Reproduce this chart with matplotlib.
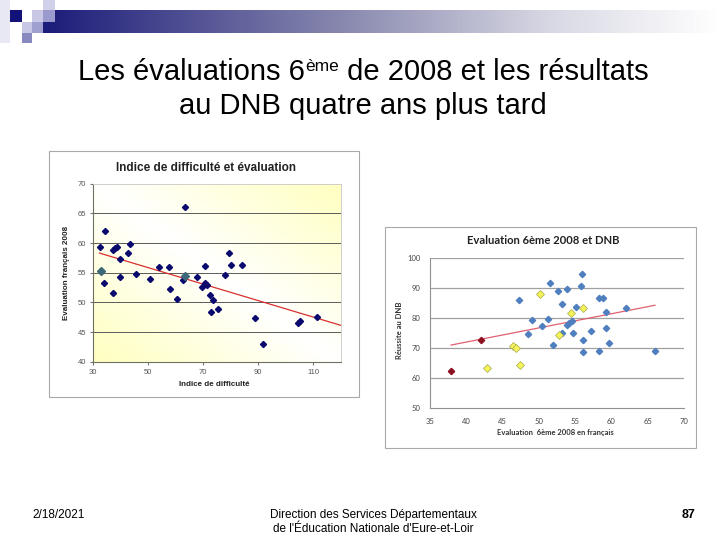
import matplotlib
matplotlib.use("Agg")
import matplotlib.pyplot as plt
import numpy as np
from matplotlib.colors import LinearSegmentedColormap
from matplotlib.patches import Rectangle

W, H = 720, 540

# graphique 1 : indice de difficulté / évaluation français 2008
diff_x = [32.4, 34.4, 34.1, 37.4, 37.2, 38.0, 38.6, 39.7, 39.7, 42.7, 43.5,
          45.7, 50.7, 54.0, 57.5, 58.0, 60.4, 63.6, 62.9, 67.7, 69.5, 70.6,
          70.9, 71.5, 72.4, 72.8, 73.6, 75.5, 78.0, 79.3, 80.1, 84.1, 88.8,
          91.7, 104.5, 105.4, 111.3]
diff_y = [59.3, 62.1, 53.3, 51.6, 58.9, 59.1, 59.3, 57.3, 54.3, 58.3, 59.8,
          54.7, 53.9, 56.0, 55.9, 52.2, 50.5, 66.1, 53.8, 54.3, 52.6, 56.2,
          53.3, 52.9, 51.3, 48.4, 50.4, 48.9, 54.6, 58.4, 56.3, 56.3, 47.3,
          43.0, 46.5, 46.9, 47.5]
# deux points en couleur plus claire
diff_hl_x = [33.0, 63.6]
diff_hl_y = [55.3, 54.5]

# graphique 2 : évaluation 6ème 2008 / réussite au DNB
blue_x = [47.2, 49.0, 48.5, 50.4, 51.2, 52.0, 51.6, 52.6, 53.9, 55.9, 55.8,
          53.2, 55.1, 58.3, 58.9, 59.3, 62.0, 53.9, 54.2, 54.5, 53.2, 54.7,
          57.2, 59.2, 56.1, 59.6, 56.1, 58.3, 66.0]
blue_y = [86.0, 79.5, 74.6, 77.5, 79.7, 71.2, 91.8, 89.2, 89.9, 94.6, 90.7,
          84.8, 83.7, 86.6, 86.6, 82.1, 83.3, 77.7, 78.3, 79.0, 75.0, 75.0,
          75.7, 76.8, 72.8, 71.7, 68.8, 69.2, 69.2]
yellow_x = [42.8, 46.4, 46.8, 47.4, 50.2, 56.1, 54.4, 52.8]
yellow_y = [63.2, 70.7, 70.1, 64.4, 88.2, 83.5, 81.7, 74.4]
red_x = [37.9, 42.0]
red_y = [62.2, 72.8]

TITLE = ["Les évaluations 6", "ème", " de 2008 et les résultats"]
TITLE_2 = "au DNB quatre ans plus tard"
FOOT_DATE = "2/18/2021"
FOOT_TEXT = "Direction des Services Départementaux\nde l'Éducation Nationale d'Eure-et-Loir"
FOOT_PAGE = "87"


def box(x0, y0, x1, y1):
    """pixels (haut-gauche) -> fraction de figure"""
    return [x0 / W, 1 - y1 / H, (x1 - x0) / W, (y1 - y0) / H]


def frame(fig, x0, y0, x1, y1):
    fig.patches.append(Rectangle((x0 / W, 1 - y1 / H), (x1 - x0) / W, (y1 - y0) / H,
                                 transform=fig.transFigure, facecolor="white",
                                 edgecolor="#a8a8a8", lw=0.8, zorder=-1))


plt.rcParams["font.family"] = ["Liberation Sans", "DejaVu Sans"]
fig = plt.figure(figsize=(7.2, 5.4), dpi=100)

# bandeau du haut
bar = fig.add_axes(box(43, 10, 720, 33))
grad = np.linspace(0, 1, 400).reshape(1, -1)
cmap_bar = LinearSegmentedColormap.from_list(
    "bar", [(0, "#1c1c7a"), (0.45, "#8a8ab0"), (0.75, "#d8d8e4"), (1, "#ffffff")])
bar.imshow(grad, aspect="auto", cmap=cmap_bar)
bar.axis("off")
for (x0, y0, x1, y1, c) in [(0, 0, 10, 43, "#e8e8f4"), (10, 10, 22, 22, "#12127a"),
                            (32, 10, 43, 22, "#c8c8e6"), (43, 0, 55, 10, "#d0d0ea"),
                            (43, 10, 55, 22, "#9a9acc"), (22, 22, 32, 33, "#c8c8e6"),
                            (32, 22, 43, 33, "#a0a0d0"), (22, 33, 32, 43, "#8888c0")]:
    fig.patches.append(Rectangle((x0 / W, 1 - y1 / H), (x1 - x0) / W, (y1 - y0) / H,
                                 transform=fig.transFigure, facecolor=c, lw=0, zorder=3))

# titre
t1 = fig.text(78 / W, 1 - 80 / H, TITLE[0], fontsize=21, va="baseline", ha="left")
t2 = plt.annotate(TITLE[1], xy=(1, 1), xycoords=t1, xytext=(0.5, -1),
                  textcoords="offset points", fontsize=12.5, va="top", ha="left")
plt.annotate(TITLE[2], xy=(1, 0), xycoords=(t2, t1), fontsize=21,
             va="bottom", ha="left")
fig.text(363 / W, 1 - 114 / H, TITLE_2, fontsize=21, va="baseline", ha="center")

# ---------- graphique 1 ----------
frame(fig, 49, 151, 359, 397)
ax1 = fig.add_axes(box(93, 183.6, 340.5, 361.8))
gx, gy = np.meshgrid(np.linspace(0, 1, 200), np.linspace(0, 1, 200))
shade = np.abs((gx + gy) / 2 - 0.5) * 2
cmap_bg = LinearSegmentedColormap.from_list("bg", ["#ffffff", "#ffffc0"])
ax1.imshow(shade, extent=[30, 120, 40, 70], origin="lower", aspect="auto",
           cmap=cmap_bg, zorder=0)
for yv in [45, 50, 55, 60, 65]:
    ax1.axhline(yv, color="#5a5a5a", lw=0.7, zorder=1)
all_x = np.array(diff_x + diff_hl_x)
all_y = np.array(diff_y + diff_hl_y)
a, b = np.polyfit(all_x, all_y, 1)
lx = np.array([all_x.min(), 120])
ax1.plot(lx, a * lx + b, color="#d83030", lw=0.9, zorder=2)
ax1.plot(diff_x, diff_y, "D", color="#0a0a6e", ms=3.1, zorder=3)
ax1.plot(diff_hl_x, diff_hl_y, "D", color="#3d6878", ms=3.7, zorder=3)
ax1.set_xlim(30, 120)
ax1.set_ylim(40, 70)
ax1.set_xticks([30, 50, 70, 90, 110])
ax1.set_yticks([40, 45, 50, 55, 60, 65, 70])
ax1.tick_params(labelsize=5.5, labelcolor="#555555", length=2, color="#777777", pad=3)
for s in ["top", "right"]:
    ax1.spines[s].set_color("#c8c8c8")
    ax1.spines[s].set_linewidth(0.6)
for s in ["left", "bottom"]:
    ax1.spines[s].set_color("#707060")
    ax1.spines[s].set_linewidth(0.8)
fig.text(206 / W, 1 - 168 / H, "Indice de difficulté et évaluation", fontsize=8.5,
         weight="bold", ha="center", va="center", color="#222222")
fig.text(214 / W, 1 - 385 / H, "Indice de difficulté", fontsize=5.8,
         weight="bold", ha="center", va="center", color="#222222")
fig.text(67 / W, 1 - 273 / H, "Evaluation français 2008", fontsize=5.8, rotation=90,
         weight="bold", ha="center", va="center", color="#222222")

# ---------- graphique 2 ----------
frame(fig, 385, 227, 696, 448)
ax2 = fig.add_axes(box(430, 258.3, 684, 408))
for yv in [60, 70, 80, 90, 100]:
    ax2.axhline(yv, color="#a0a0a0", lw=0.9, zorder=1)
all2_x = np.array(blue_x + yellow_x + red_x)
all2_y = np.array(blue_y + yellow_y + red_y)
a2, b2 = np.polyfit(all2_x, all2_y, 1)
lx2 = np.array([all2_x.min(), all2_x.max()])
ax2.plot(lx2, a2 * lx2 + b2, color="#e06070", lw=0.9, zorder=2)
ax2.plot(blue_x, blue_y, "D", color="#4f7fbf", ms=3.2, zorder=3)
ax2.plot(yellow_x, yellow_y, "D", mfc="#f4f45a", mec="#a8a848", mew=0.5, ms=3.6, zorder=3)
ax2.plot(red_x, red_y, "D", color="#8c1020", ms=3.2, zorder=3)
ax2.set_xlim(35, 70)
ax2.set_ylim(50, 100)
ax2.set_xticks(np.arange(35, 71, 5))
ax2.set_yticks(np.arange(50, 101, 10))
ax2.tick_params(labelsize=5.5, labelcolor="#444444", length=0, pad=7)
for lab in ax2.get_xticklabels() + ax2.get_yticklabels():
    lab.set_family(["Lato", "DejaVu Sans"])
for s in ["top", "right"]:
    ax2.spines[s].set_visible(False)
for s in ["left", "bottom"]:
    ax2.spines[s].set_color("#909090")
    ax2.spines[s].set_linewidth(0.8)
fig.text(543 / W, 1 - 240 / H, "Evaluation 6ème 2008 et DNB", fontsize=8.1,
         weight="bold", ha="center", va="center", color="#222222",
         family=["Lato", "DejaVu Sans"])
fig.text(555 / W, 1 - 432 / H, "Evaluation  6ème 2008 en français", fontsize=5.5,
         weight="bold", ha="center", va="center", color="#333333",
         family=["Lato", "DejaVu Sans"])
fig.text(400 / W, 1 - 330 / H, "Réussite au DNB", fontsize=5.5, rotation=90,
         weight="bold", ha="center", va="center", color="#333333",
         family=["Lato", "DejaVu Sans"])

# pied de page
foot = ["Liberation Sans Narrow", "Liberation Sans", "DejaVu Sans"]
fig.text(32 / W, 1 - 515 / H, FOOT_DATE, fontsize=8.5, family=foot, ha="left", va="center")
fig.text(373 / W, 1 - 522 / H, FOOT_TEXT, fontsize=8.5, family=foot, ha="center",
         va="center", linespacing=1.15)
fig.text(695 / W, 1 - 515 / H, FOOT_PAGE, fontsize=9, family=foot, weight="bold",
         ha="right", va="center")

fig.savefig("out.png", dpi=100)
